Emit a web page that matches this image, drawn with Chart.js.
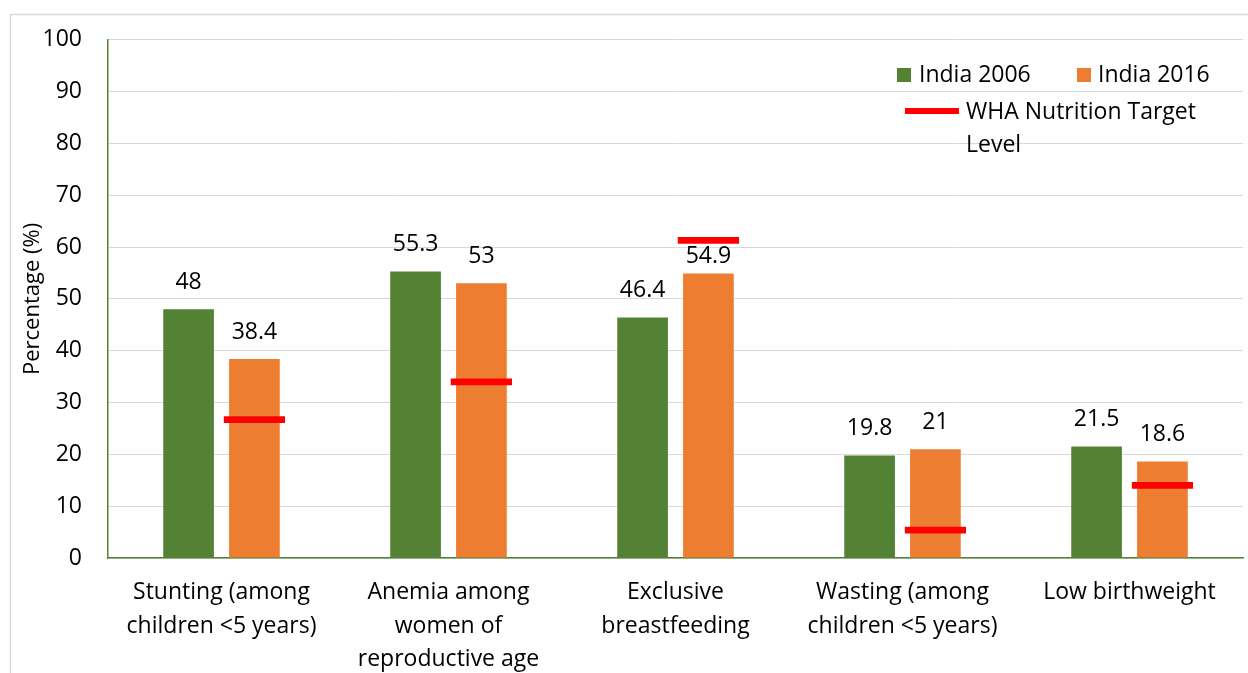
<!DOCTYPE html>
<html>
<head>
<meta charset="utf-8">
<script src="https://cdn.jsdelivr.net/npm/chart.js@4"></script>
<style>
  html, body { margin: 0; padding: 0; background: #fff; }
  #wrap { width: 1248px; height: 673px; position: relative; }
</style>
</head>
<body>
<div id="wrap"><canvas id="chart" width="1248" height="673"></canvas></div>
<script>
const categories = [
  ["Stunting (among", "children <5 years)"],
  ["Anemia among", "women of", "reproductive age"],
  ["Exclusive", "breastfeeding"],
  ["Wasting (among", "children <5 years)"],
  ["Low birthweight"]
];
const india2006 = [48, 55.3, 46.4, 19.8, 21.5];
const india2016 = [38.4, 53, 54.9, 21, 18.6];
const whaTarget = [26.7, 34.0, 61.3, 5.4, 14.0];
const yTicks = [0, 10, 20, 30, 40, 50, 60, 70, 80, 90, 100];

const GREEN = '#548235';
const ORANGE = '#ED7D31';
const RED = '#FF0000';
const FONT = "'Open Sans', sans-serif";
const FS = 23;

// target marker drawn as a thin floating bar around the target value
const half = 0.65;
const targetBars = whaTarget.map(v => [v - half, v + half]);

const framePlugin = {
  id: 'frame',
  beforeDraw(chart) {
    const ctx = chart.ctx;
    ctx.save();
    ctx.fillStyle = '#fff';
    ctx.fillRect(0, 0, chart.width, chart.height);
    ctx.strokeStyle = '#d9d9d9';
    ctx.lineWidth = 1.5;
    ctx.beginPath();
    ctx.moveTo(10.5, chart.height);
    ctx.lineTo(10.5, 14.5);
    ctx.lineTo(chart.width, 14.5);
    ctx.stroke();
    ctx.restore();
  }
};

const valueLabels = {
  id: 'valueLabels',
  afterDatasetsDraw(chart) {
    const ctx = chart.ctx;
    ctx.save();
    ctx.font = FS + 'px ' + FONT;
    ctx.fillStyle = '#000';
    ctx.textAlign = 'center';
    ctx.textBaseline = 'middle';
    [0, 1].forEach(di => {
      const meta = chart.getDatasetMeta(di);
      meta.data.forEach((bar, i) => {
        let off = 27;
        if (di === 1 && i === 2) off = 17; // pushed below the target marker
        ctx.fillText(String(chart.data.datasets[di].data[i]), bar.x, bar.y - off);
      });
    });
    ctx.restore();
  }
};

const legendBox = {
  id: 'legendBox',
  afterDraw(chart) {
    const ctx = chart.ctx;
    ctx.save();
    ctx.font = FS + 'px ' + FONT;
    ctx.textBaseline = 'middle';
    ctx.textAlign = 'left';
    ctx.fillStyle = GREEN;
    ctx.fillRect(897, 68, 14, 14);
    ctx.fillStyle = ORANGE;
    ctx.fillRect(1077, 68, 14, 14);
    ctx.fillStyle = RED;
    ctx.fillRect(905, 108, 54, 6);
    ctx.fillStyle = '#000';
    ctx.fillText('India 2006', 919, 75);
    ctx.fillText('India 2016', 1098, 75);
    ctx.fillText('WHA Nutrition Target', 966, 112);
    ctx.fillText('Level', 966, 145);
    ctx.restore();
  }
};

new Chart(document.getElementById('chart'), {
  type: 'bar',
  data: {
    labels: categories,
    datasets: [
      {
        label: 'India 2006',
        data: india2006,
        backgroundColor: GREEN,
        stack: 'a',
        order: 0,
        barPercentage: 0.77,
        categoryPercentage: 0.58
      },
      {
        label: 'India 2016',
        data: india2016,
        backgroundColor: ORANGE,
        stack: 'b',
        order: 2,
        barPercentage: 0.77,
        categoryPercentage: 0.58
      },
      {
        label: 'WHA Nutrition Target Level',
        data: targetBars,
        backgroundColor: RED,
        stack: 'b',
        order: 1,
        barPercentage: 0.93,
        categoryPercentage: 0.58
      }
    ]
  },
  options: {
    responsive: false,
    animation: false,
    layout: { padding: { left: 0, top: 38, right: 5, bottom: 0 } },
    plugins: {
      legend: { display: false },
      tooltip: { enabled: false }
    },
    scales: {
      x: {
        grid: { display: false, drawTicks: false },
        border: { color: GREEN, width: 1.5 },
        ticks: {
          color: '#000',
          padding: 18,
          maxRotation: 0,
          autoSkip: false,
          font: { family: FONT, size: FS, lineHeight: 1.46 }
        },
        afterFit(scale) { scale.height = 115; }
      },
      y: {
        stacked: false,
        min: 0,
        max: 100,
        afterBuildTicks(scale) { scale.ticks = yTicks.map(v => ({ value: v })); },
        grid: { color: '#d9d9d9', lineWidth: 1, drawTicks: false },
        border: { color: GREEN, width: 1.5 },
        ticks: {
          color: '#000',
          padding: 26,
          font: { family: FONT, size: FS }
        },
        title: {
          display: true,
          text: 'Percentage (%)',
          color: '#000',
          padding: { top: 20, bottom: 0 },
          font: { family: FONT, size: 22, lineHeight: 1.2 }
        },
        afterFit(scale) { scale.width = 108; }
      }
    }
  },
  plugins: [framePlugin, valueLabels, legendBox]
});
</script>
</body>
</html>
